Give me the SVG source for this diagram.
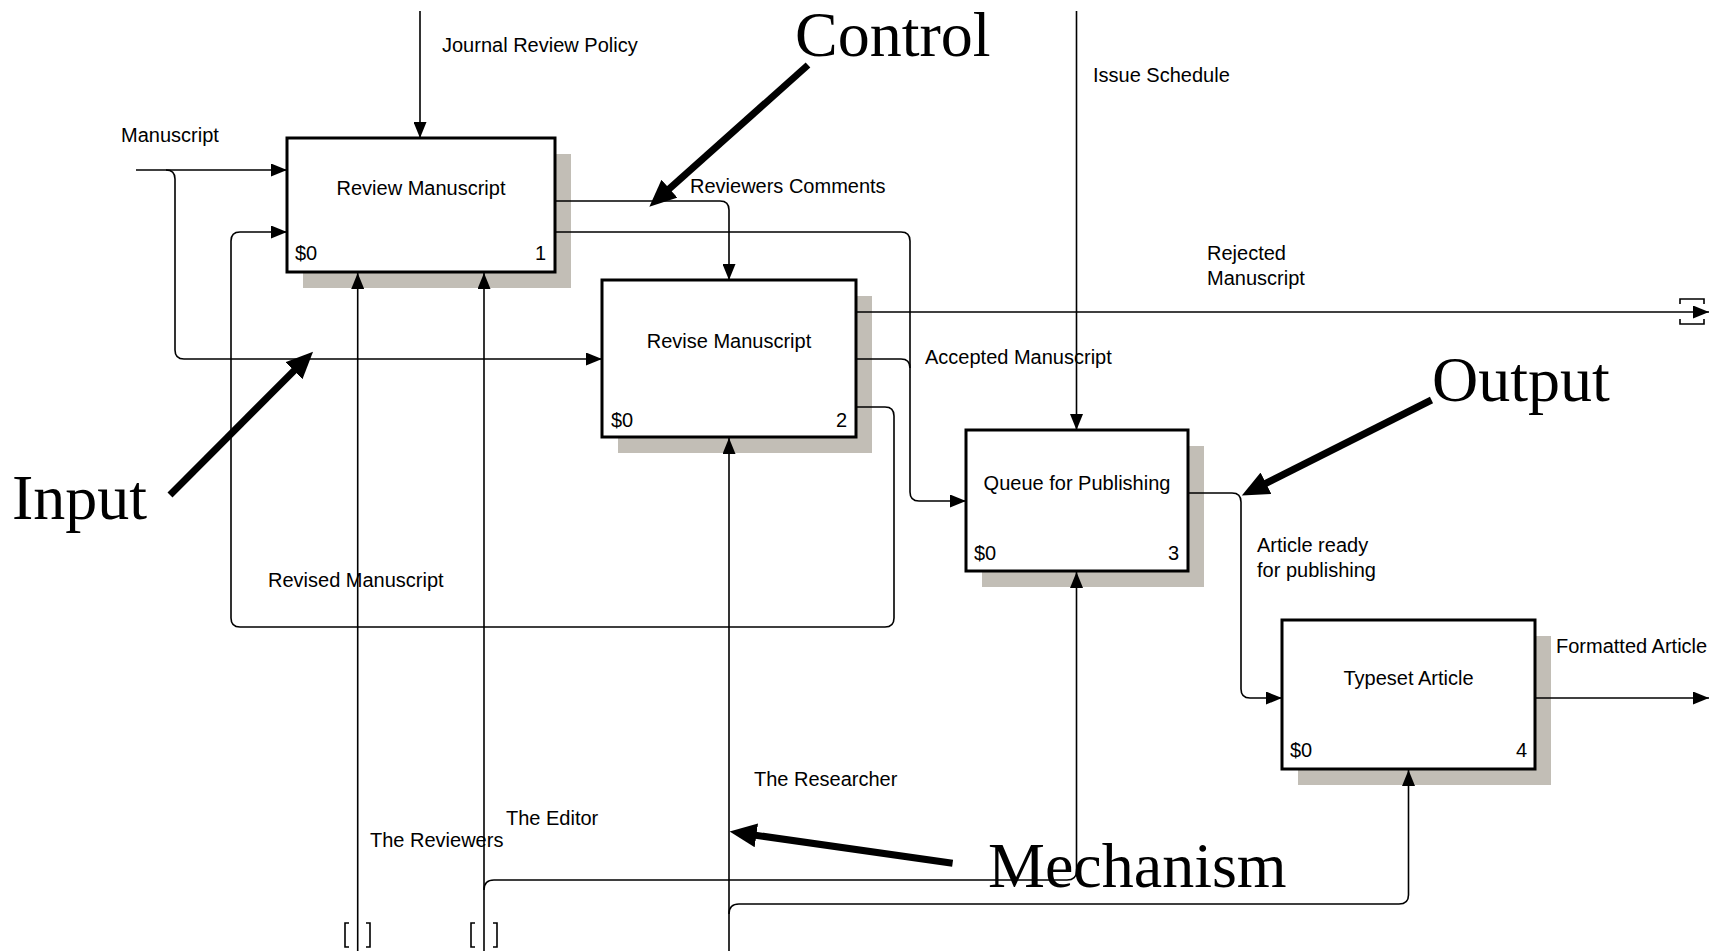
<svg xmlns="http://www.w3.org/2000/svg" width="1729" height="951" viewBox="0 0 1729 951">
<style>
.bg{fill:#ffffff}
.shadow{fill:#c2beb6}
.box{fill:#ffffff;stroke:#000;stroke-width:3}
.t{font-family:"Liberation Sans",Arial,sans-serif;font-size:20px;fill:#000}
.tc{font-family:"Liberation Sans",Arial,sans-serif;font-size:20px;fill:#000;text-anchor:middle}
.te{font-family:"Liberation Sans",Arial,sans-serif;font-size:20px;fill:#000;text-anchor:end}
.big{font-family:"Liberation Serif","Times New Roman",serif;font-size:64px;fill:#000}
.c{fill:none;stroke:#000;stroke-width:1.6}
.thick{fill:none;stroke:#000;stroke-width:7}
</style>
<defs>
<marker id="ah" markerUnits="userSpaceOnUse" markerWidth="16" markerHeight="13" refX="16" refY="6.5" orient="auto">
<path d="M0,0 L16,6.5 L0,13 z" fill="#000"/>
</marker>
<marker id="bh" markerUnits="userSpaceOnUse" markerWidth="28" markerHeight="24" refX="6" refY="12" orient="auto">
<path d="M0,0 L27,12 L0,24 z" fill="#000"/>
</marker>
</defs>
<rect class="bg" x="0" y="0" width="1729" height="951"/>

<g id="node1">
<rect class="shadow" x="303" y="154" width="268" height="134"/>
<rect class="box" x="287" y="138" width="268" height="134"/>
<text class="tc" x="421" y="195">Review Manuscript</text>
<text class="t" x="295" y="260">$0</text>
<text class="te" x="546" y="260">1</text>
</g>
<g id="node2">
<rect class="shadow" x="618" y="296" width="254" height="157"/>
<rect class="box" x="602" y="280" width="254" height="157"/>
<text class="tc" x="729" y="348">Revise Manuscript</text>
<text class="t" x="611" y="427">$0</text>
<text class="te" x="847" y="427">2</text>
</g>
<g id="node3">
<rect class="shadow" x="982" y="446" width="222" height="141"/>
<rect class="box" x="966" y="430" width="222" height="141"/>
<text class="tc" x="1077" y="490">Queue for Publishing</text>
<text class="t" x="974" y="560">$0</text>
<text class="te" x="1179" y="560">3</text>
</g>
<g id="node4">
<rect class="shadow" x="1298" y="636" width="253" height="149"/>
<rect class="box" x="1282" y="620" width="253" height="149"/>
<text class="tc" x="1408.5" y="685">Typeset Article</text>
<text class="t" x="1290" y="757">$0</text>
<text class="te" x="1527" y="757">4</text>
</g>

<g id="connectors">
<path class="c" d="M420 11 V138" marker-end="url(#ah)"/>
<path class="c" d="M1076.5 11 V430" marker-end="url(#ah)"/>
<path class="c" d="M136 170 H287" marker-end="url(#ah)"/>
<path class="c" d="M166 170 Q175 170 175 179 V350 Q175 359 184 359 H602" marker-end="url(#ah)"/>
<path class="c" d="M556 201 H720 Q729 201 729 210 V280" marker-end="url(#ah)"/>
<path class="c" d="M556 232 H901 Q910 232 910 241 V492 Q910 501 919 501 H966" marker-end="url(#ah)"/>
<path class="c" d="M857 359 H901 Q910 359 910 368"/>
<path class="c" d="M857 312 H1709" marker-end="url(#ah)"/>
<path class="c" d="M1680 304 V299 H1704 V304 M1680 319 V324 H1704 V319"/>
<path class="c" d="M857 407 H885 Q894 407 894 416 V618 Q894 627 885 627 H240 Q231 627 231 618 V241 Q231 232 240 232 H287" marker-end="url(#ah)"/>
<path class="c" d="M1189 493 H1232 Q1241 493 1241 502 V689 Q1241 698 1250 698 H1282" marker-end="url(#ah)"/>
<path class="c" d="M1536 698 H1709" marker-end="url(#ah)"/>
<path class="c" d="M357.7 951 V273" marker-end="url(#ah)"/>
<path class="c" d="M484 951 V273" marker-end="url(#ah)"/>
<path class="c" d="M484 890 Q484 880 494 880 H1067 Q1076.5 880 1076.5 871 V572" marker-end="url(#ah)"/>
<path class="c" d="M729 951 V438" marker-end="url(#ah)"/>
<path class="c" d="M729 914 Q729 904 739 904 H1399 Q1408.5 904 1408.5 895 V770" marker-end="url(#ah)"/>
<path class="c" d="M349 923 H345 V947 H349 M366 923 H370 V947 H366"/>
<path class="c" d="M475 923 H471 V947 H475 M493 923 H497 V947 H493"/>
</g>

<g id="labels">
<text class="t" x="442" y="52">Journal Review Policy</text>
<text class="t" x="121" y="142">Manuscript</text>
<text class="t" x="690" y="193">Reviewers Comments</text>
<text class="t" x="1093" y="82">Issue Schedule</text>
<text class="t" x="1207" y="260">Rejected</text>
<text class="t" x="1207" y="285">Manuscript</text>
<text class="t" x="925" y="364">Accepted Manuscript</text>
<text class="t" x="1257" y="552">Article ready</text>
<text class="t" x="1257" y="577">for publishing</text>
<text class="t" x="1556" y="653">Formatted Article</text>
<text class="t" x="268" y="587">Revised Manuscript</text>
<text class="t" x="754" y="786">The Researcher</text>
<text class="t" x="506" y="825">The Editor</text>
<text class="t" x="370" y="847">The Reviewers</text>
</g>

<g id="annotations">
<line class="thick" x1="808" y1="65" x2="665" y2="192.7" marker-end="url(#bh)"/>
<line class="thick" x1="170" y1="495" x2="298.2" y2="366.5" marker-end="url(#bh)"/>
<line class="thick" x1="1431.5" y1="400" x2="1260.6" y2="486" marker-end="url(#bh)"/>
<line class="thick" x1="952.6" y1="863.3" x2="750.4" y2="834.5" marker-end="url(#bh)"/>
<text class="big" x="795" y="56">Control</text>
<text class="big" x="1432" y="401">Output</text>
<text class="big" x="12" y="519">Input</text>
<text class="big" x="988" y="887">Mechanism</text>
</g>
</svg>
